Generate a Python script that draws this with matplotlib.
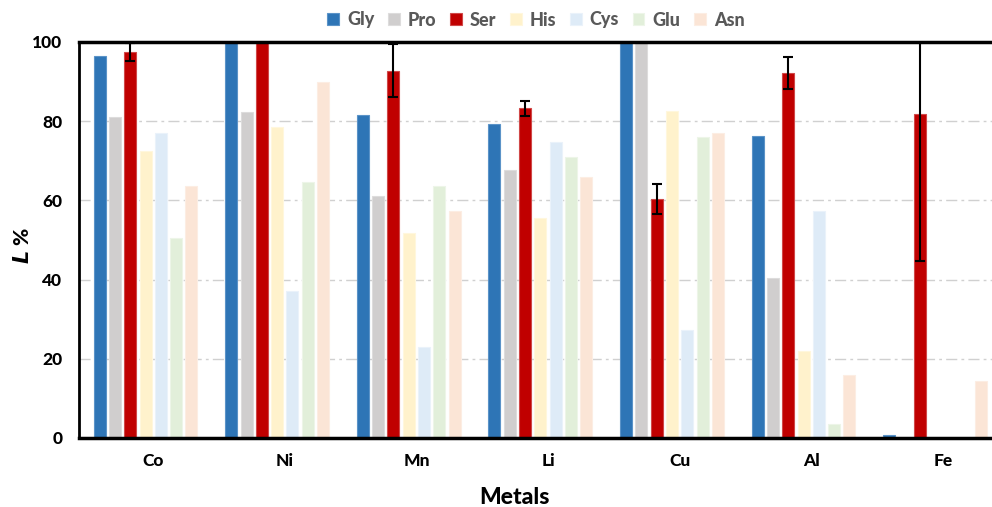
import matplotlib
matplotlib.use("Agg")
import matplotlib.pyplot as plt
import numpy as np

metals = ["Co", "Ni", "Mn", "Li", "Cu", "Al", "Fe"]
series = ["Gly", "Pro", "Ser", "His", "Cys", "Glu", "Asn"]
gly = [96.5, 100, 81.5, 79.3, 100, 76.3, 0.7]
pro = [81.1, 82.2, 61.2, 67.8, 100, 40.4, 0]
ser = [97.5, 100, 92.8, 83.3, 60.3, 92.2, 81.8]
his = [72.4, 78.5, 51.8, 55.6, 82.7, 21.9, 0]
cys = [76.9, 37.2, 23.0, 74.7, 27.2, 57.3, 0]
glu = [50.4, 64.7, 63.6, 71.0, 76.0, 3.5, 0]
asn = [63.6, 89.9, 57.3, 65.9, 77.1, 15.9, 14.5]
ser_err = [2.2, 0, 6.8, 1.9, 3.8, 4.0, 37.0]
yticks = [0, 20, 40, 60, 80, 100]

colors = ["#2E75B6", "#D0CECE", "#C00000", "#FFF2CC", "#DEEBF7", "#E2EFDA", "#FBE5D6"]
edges = ["#5B93C8", "#DDDCDC", "#D04848", "#FFF7DD", "#EAF2FA", "#EDF5E8", "#FCEDE3"]
values = [gly, pro, ser, his, cys, glu, asn]

plt.rcParams['font.family'] = ['Lato', 'DejaVu Sans']
W = 900

fig = plt.figure(figsize=(9.92, 5.07), dpi=100)
ax = fig.add_axes([79/992, 1-438/507, (1000-79)/992, (438-42)/507])

x = np.arange(len(metals))
pitch = 15.3/131.6
width = 12/131.6
for j, (name, vals) in enumerate(zip(series, values)):
    pos = x + (j - 3.5)*pitch
    ax.bar(pos, vals, width=width, color=colors[j], edgecolor=edges[j],
           linewidth=0.8, label=name, zorder=2)
    if name == "Ser":
        ex = [p for p, e in zip(pos, ser_err) if e > 0]
        ey = [v for v, e in zip(vals, ser_err) if e > 0]
        ee = [e for e in ser_err if e > 0]
        ax.errorbar(ex, ey, yerr=ee, fmt="none", ecolor="black", elinewidth=1.5,
                    capsize=3.5, capthick=1.5, zorder=3)

ax.set_xlim(-0.564, 6.435)
ax.set_ylim(0, 100)
ax.set_yticks(yticks)
ax.set_xticks(x)
ax.set_xticklabels(metals)
ax.tick_params(axis='both', length=0, labelsize=12.5)
for lab in ax.get_xticklabels() + ax.get_yticklabels():
    lab.set_fontweight(W)
ax.tick_params(axis='x', pad=11)
ax.tick_params(axis='y', pad=12)

ax.yaxis.grid(True, color="#D0D0D0", linestyle=(0, (8, 3, 2, 3)), linewidth=1.0, zorder=0)
ax.set_axisbelow(True)

ax.spines['top'].set_linewidth(2.5)
ax.spines['bottom'].set_linewidth(2.5)
ax.spines['left'].set_linewidth(2.0)
ax.spines['right'].set_visible(False)
for s in ax.spines.values():
    s.set_color("black")

fig.text(514/992, 1-497/507, "Metals", fontsize=16.5, fontweight=W, ha='center', va='center')
fig.text(22/992, 1-246/507, "$\\bfit{L}$ %", fontsize=15, fontweight=W, rotation=90,
         ha='center', va='center')

leg = fig.legend(loc="center", bbox_to_anchor=(536/992, 1-20/507), ncol=7, frameon=False,
                 handlelength=0.65, handleheight=0.65, handletextpad=0.45, columnspacing=0.75,
                 fontsize=13)
for t in leg.get_texts():
    t.set_fontweight(W)
    t.set_color("#595959")

fig.savefig("out.png", dpi=100)
